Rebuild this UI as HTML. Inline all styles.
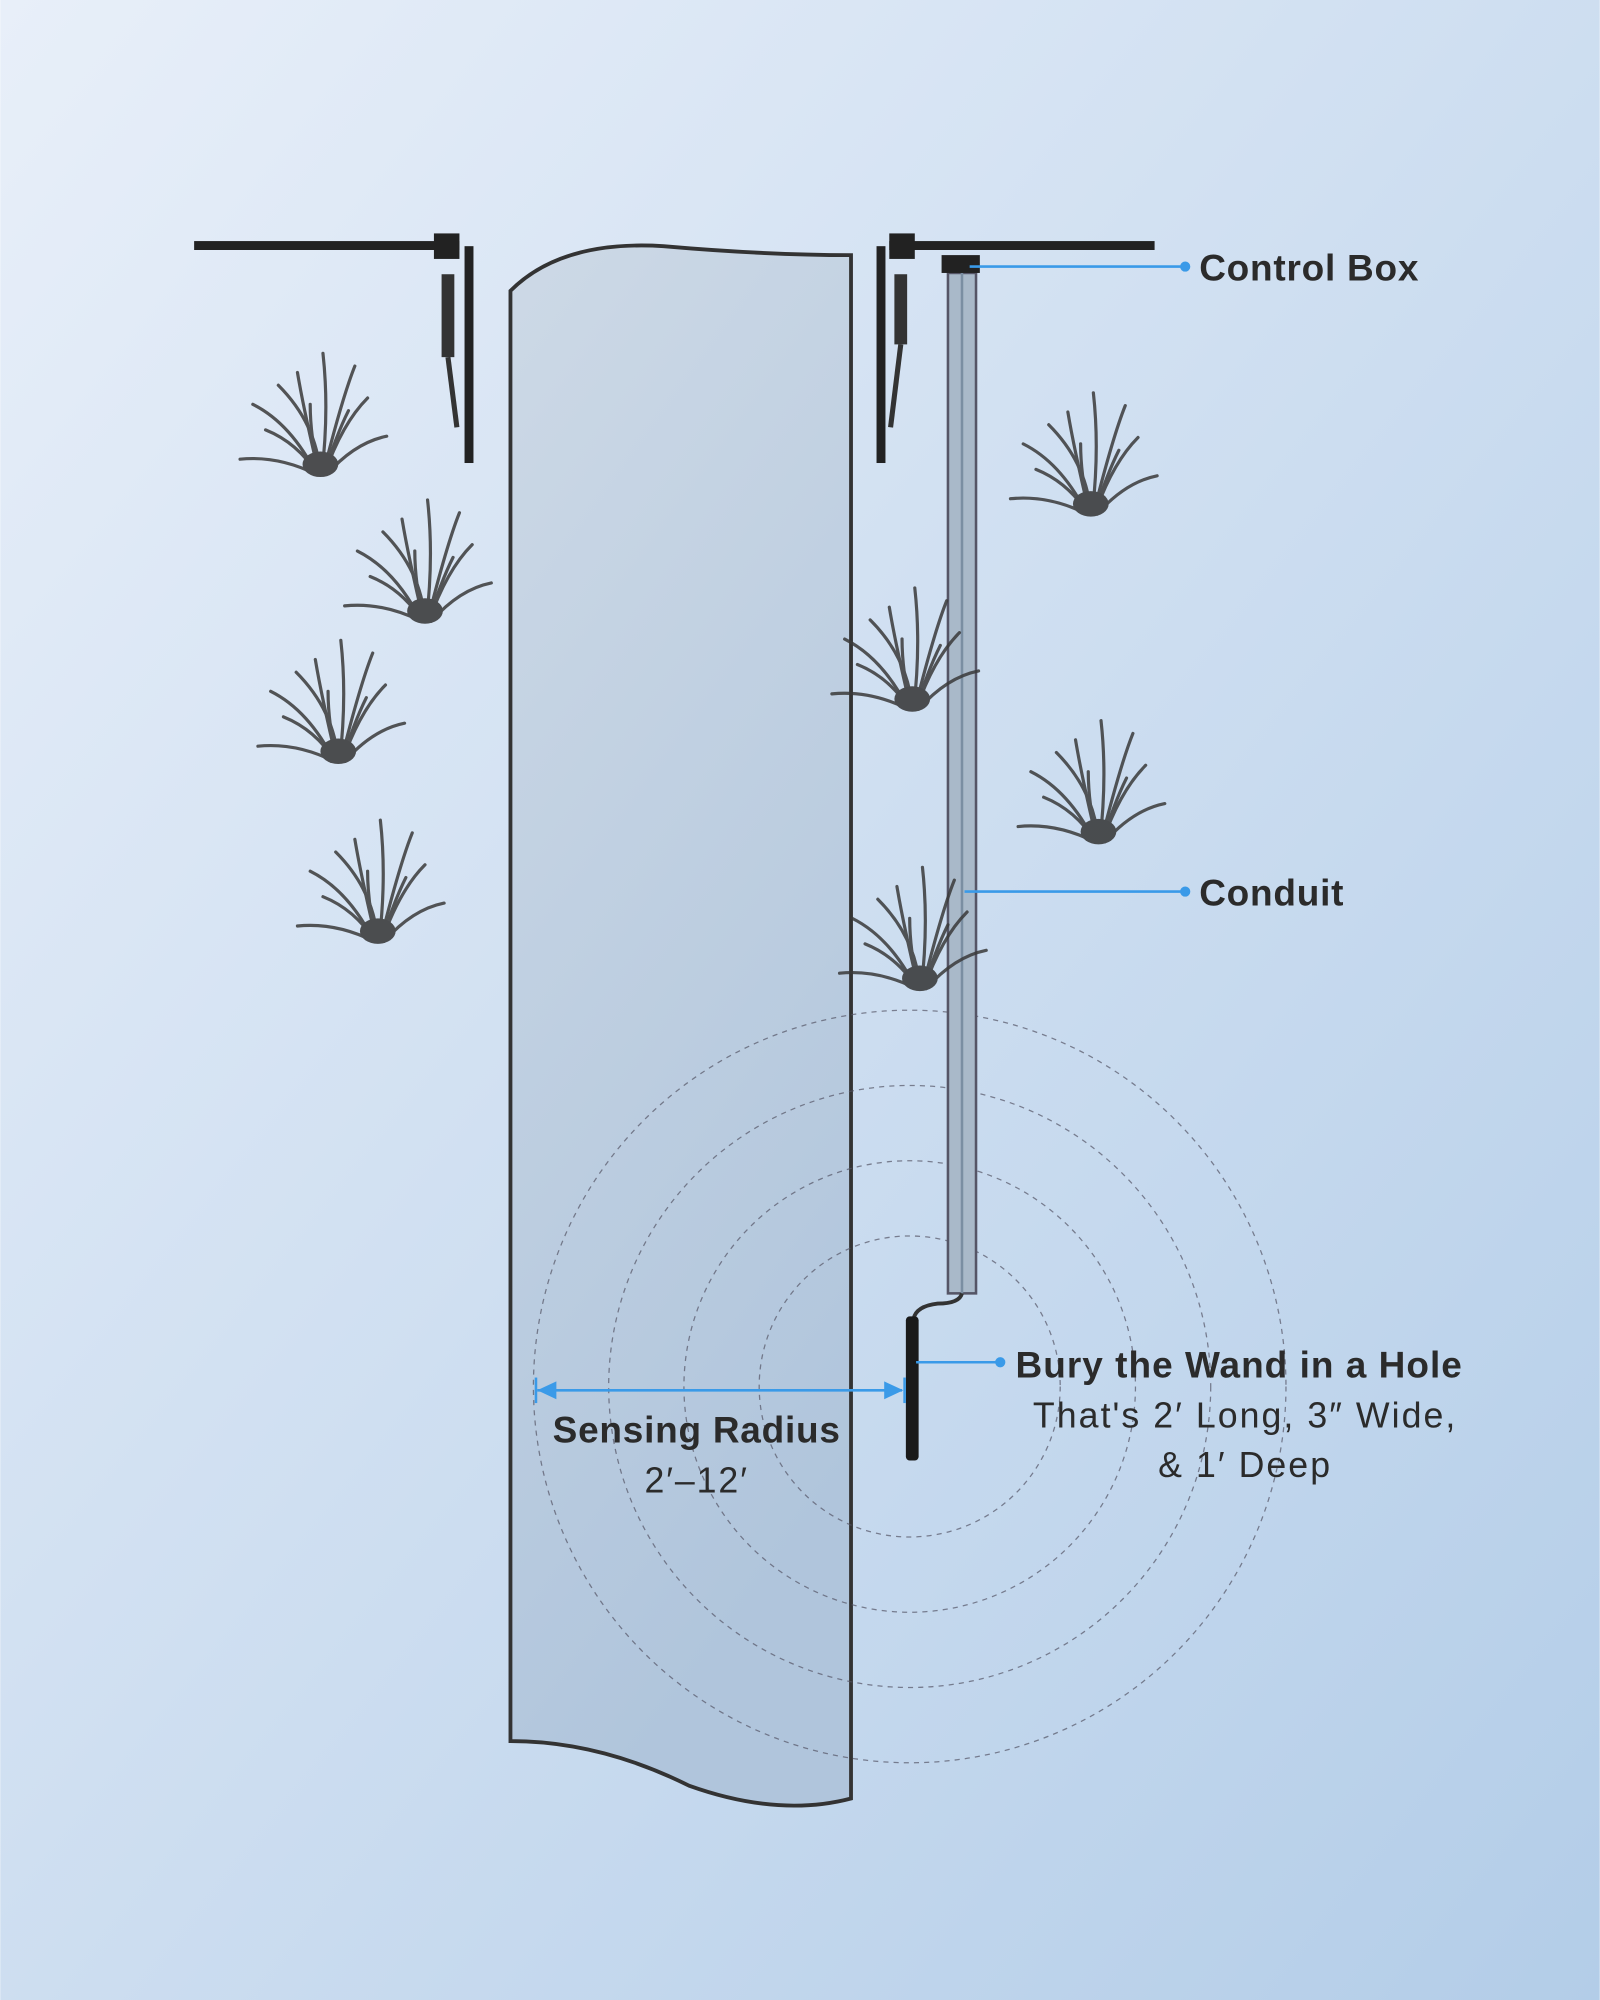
<!DOCTYPE html>
<html><head><meta charset="utf-8"><style>
html,body{margin:0;padding:0;width:1600px;height:2000px;overflow:hidden}
svg{display:block}
text{font-family:"Liberation Sans",sans-serif;fill:#2b2b2b}
</style></head><body>
<svg width="1600" height="2000" viewBox="0 0 1254 1568" xmlns="http://www.w3.org/2000/svg">
<defs>
<linearGradient id="bg" x1="0" y1="0" x2="1" y2="1">
<stop offset="0" stop-color="#e8eff9"/><stop offset="1" stop-color="#b3cde8"/></linearGradient>
<linearGradient id="road" x1="0" y1="0" x2="0.3" y2="1">
<stop offset="0" stop-color="#cdd9e6"/><stop offset="1" stop-color="#b0c5dc"/></linearGradient>
<g id="grass" fill="none" stroke="#3a3a3a" stroke-width="2.5" stroke-linecap="round" opacity="0.85">
<path d="M0 0 Q-20 -40 -50 -55"/><path d="M2 0 Q-10 -50 -15 -80"/><path d="M4 0 Q10 -50 5 -95"/>
<path d="M6 0 Q20 -40 40 -60"/><path d="M8 0 Q30 -25 55 -30"/><path d="M0 0 Q-30 -15 -60 -12"/>
<path d="M3 0 Q0 -40 -30 -70"/><path d="M5 0 Q20 -60 30 -85"/>
<path d="M1 0 Q-15 -25 -40 -35"/><path d="M6 0 Q15 -30 25 -50"/><path d="M2 0 Q-5 -30 -5 -55"/>
<ellipse cx="3" cy="-8" rx="14" ry="10" fill="#333" stroke="none"/>
</g>
</defs>
<rect width="1254" height="1568" fill="url(#bg)"/>
<path d="M400 228 Q440 188 520 193 Q600 200 667 200 L667 1410 Q610 1425 540 1400 Q470 1365 400 1365 Z" fill="url(#road)" stroke="#333" stroke-width="3"/>
<g fill="none" stroke="#556" stroke-width="1" stroke-dasharray="4 4" opacity="0.7">
<circle cx="713" cy="1087" r="118"/><circle cx="713" cy="1087" r="177"/><circle cx="713" cy="1087" r="236"/><circle cx="713" cy="1087" r="295"/>
</g>
<rect x="152" y="189" width="208" height="7" fill="#222"/>
<rect x="340" y="183" width="20" height="20" fill="#222"/>
<rect x="364" y="193" width="7" height="170" fill="#222"/>
<rect x="346" y="215" width="10" height="65" fill="#333"/>
<line x1="351" y1="280" x2="358" y2="335" stroke="#333" stroke-width="4"/>
<rect x="697" y="189" width="208" height="7" fill="#222"/>
<rect x="697" y="183" width="20" height="20" fill="#222"/>
<rect x="687" y="193" width="7" height="170" fill="#222"/>
<rect x="701" y="215" width="10" height="55" fill="#333"/>
<line x1="706" y1="270" x2="698" y2="335" stroke="#333" stroke-width="4"/>
<rect x="743" y="214" width="22" height="800" fill="#a9b9c9" stroke="#556" stroke-width="2"/>
<line x1="754" y1="214" x2="754" y2="1014" stroke="#7a8ea2" stroke-width="2"/>
<rect x="738" y="200" width="30" height="14" fill="#222"/>
<path d="M754 1014 Q752 1022 735 1022 Q718 1024 716 1034" fill="none" stroke="#333" stroke-width="3"/>
<rect x="710" y="1032" width="10" height="113" rx="3" fill="#1a1a1a"/>
<use href="#grass" x="248" y="372"/><use href="#grass" x="330" y="487"/><use href="#grass" x="262" y="597"/><use href="#grass" x="293" y="738"/>
<use href="#grass" x="852" y="403"/><use href="#grass" x="712" y="556"/><use href="#grass" x="858" y="660"/><use href="#grass" x="718" y="775"/>
<g stroke="#3a9ae8" stroke-width="2" fill="#3a9ae8">
<line x1="760" y1="209" x2="928" y2="209"/><circle cx="929" cy="209" r="3"/>
<line x1="756" y1="699" x2="928" y2="699"/><circle cx="929" cy="699" r="3"/>
<line x1="718" y1="1068" x2="783" y2="1068"/><circle cx="784" cy="1068" r="3"/>
<line x1="421" y1="1090" x2="707" y2="1090"/>
<line x1="420" y1="1080" x2="420" y2="1100"/><line x1="709" y1="1080" x2="709" y2="1100"/>
<path d="M421 1090 L436 1083 L436 1097 Z" stroke="none"/><path d="M708 1090 L693 1083 L693 1097 Z" stroke="none"/>
</g>
<text x="940" y="220" font-size="29" font-weight="bold" letter-spacing="0.6">Control Box</text>
<text x="940" y="710" font-size="29" font-weight="bold" letter-spacing="0.6">Conduit</text>
<text x="796" y="1080" font-size="29" font-weight="bold" letter-spacing="0.8">Bury the Wand in a Hole</text>
<text x="976" y="1119" font-size="28" text-anchor="middle" letter-spacing="1.6">That's 2′ Long, 3″ Wide,</text>
<text x="976" y="1158" font-size="28" text-anchor="middle" letter-spacing="1.6">&amp; 1′ Deep</text>
<text x="546" y="1131" font-size="29" font-weight="bold" text-anchor="middle" letter-spacing="0.6">Sensing Radius</text>
<text x="546" y="1170" font-size="28" text-anchor="middle" letter-spacing="1.5">2′–12′</text>
</svg>
</body></html>
